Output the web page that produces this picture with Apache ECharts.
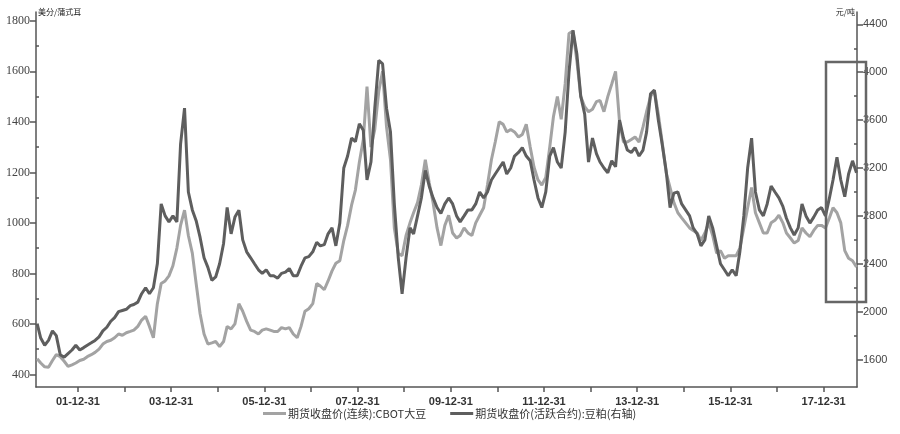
<!DOCTYPE html>
<html>
<head>
<meta charset="utf-8">
<script src="https://cdn.jsdelivr.net/npm/echarts@6/dist/echarts.min.js"></script>
<style>
html,body{margin:0;padding:0;background:#fff;}
#c{width:900px;height:434px;}
</style>
</head>
<body>
<div id="c"></div>
<script>
// first month of data, monthly points
const startYear = 2001, startMonth = 2;
// CBOT soybeans continuous close (US cents/bushel), monthly, Feb 2001 - Sep 2018
const cbotSoy = [
  462,445,430,428,455,478,470,452,432,438,445,
  455,460,470,478,487,500,520,530,535,545,560,555,
  565,570,575,590,615,630,590,545,680,760,770,790,
  830,900,990,1050,950,880,760,640,560,520,525,530,
  510,530,590,580,600,680,650,610,575,570,560,575,
  580,575,570,570,585,580,585,560,545,590,650,660,
  680,760,750,735,770,810,840,850,930,990,1070,1130,
  1240,1330,1540,1300,1370,1520,1600,1380,1250,980,880,870,
  950,1000,1040,1080,1150,1250,1160,1080,980,910,990,1030,
  960,940,950,980,960,950,1000,1030,1060,1150,1250,1320,
  1400,1390,1360,1370,1360,1340,1350,1390,1300,1220,1170,1150,
  1180,1300,1420,1500,1410,1550,1750,1760,1640,1500,1460,1440,
  1450,1480,1485,1440,1500,1550,1600,1400,1320,1320,1330,1340,
  1320,1380,1440,1500,1525,1430,1320,1200,1140,1080,1040,1020,
  1000,980,970,960,930,960,1000,950,880,890,860,870,
  870,870,900,980,1060,1140,1040,1000,960,960,1000,1010,
  1030,1000,960,940,920,930,980,960,945,970,990,990,
  980,1020,1060,1040,1000,890,860,850,825
];
// DCE soybean meal active contract close (yuan/ton), monthly, Feb 2001 - Sep 2018
const dceMeal = [
  1900,1780,1720,1760,1840,1800,1640,1620,1650,1680,1720,
  1680,1700,1720,1740,1760,1790,1840,1870,1920,1950,2000,2010,
  2020,2050,2060,2080,2150,2200,2150,2200,2400,2900,2800,2750,
  2800,2750,3400,3700,3000,2850,2760,2620,2450,2370,2262,2290,
  2400,2570,2870,2650,2790,2847,2600,2500,2450,2400,2350,2320,
  2350,2300,2300,2280,2320,2330,2360,2300,2300,2380,2450,2460,
  2500,2580,2550,2560,2650,2700,2550,2740,3200,3300,3450,3420,
  3570,3515,3100,3250,3700,4100,4070,3700,3500,2900,2450,2150,
  2450,2700,2650,2800,2950,3180,3050,2950,2870,2820,2900,2950,
  2900,2800,2750,2800,2850,2850,2900,3000,2950,3000,3100,3150,
  3200,3250,3150,3200,3300,3330,3370,3300,3260,3100,2950,2870,
  3000,3300,3370,3250,3200,3500,4000,4350,4150,3800,3650,3250,
  3450,3320,3250,3200,3160,3260,3210,3600,3450,3350,3330,3370,
  3300,3350,3500,3820,3850,3600,3400,3180,2870,2990,3000,2900,
  2850,2800,2700,2650,2550,2600,2800,2700,2550,2400,2350,2300,
  2350,2300,2500,2800,3200,3450,3000,2850,2800,2900,3050,3000,
  2950,2880,2780,2700,2640,2700,2900,2800,2740,2790,2850,2870,
  2800,2950,3100,3290,3100,2960,3150,3260,3160
];
const seriesNames = ['期货收盘价(连续):CBOT大豆', '期货收盘价(活跃合约):豆粕(右轴)'];
const leftUnit = '美分/蒲式耳';
const rightUnit = '元/吨';
const leftLabels = [400,600,800,1000,1200,1400,1600,1800];
const leftMinor = [500,700,900,1100,1300,1500,1700];
const rightLabels = [1600,2000,2400,2800,3200,3600,4000,4400];
const rightMinor = [1800,2200,2600,3000,3400,3800,4200];
const labelYears = [2001,2003,2005,2007,2009,2011,2013,2015,2017];
const tickYears = [2001,2002,2003,2004,2005,2006,2007,2008,2009,2010,2011,2012,2013,2014,2015,2016,2017];

const dates = cbotSoy.map((_, i) => {
  const m = startMonth - 1 + i;
  return Date.UTC(startYear + Math.floor(m / 12), m % 12, 15);
});
const yearEnd = y => Date.UTC(y, 11, 31, 12);

const chart = echarts.init(document.getElementById('c'), null, {renderer: 'canvas'});
const axisCol = '#555';
const plain = v => String(v);
const option = {
  animation: false,
  backgroundColor: '#fff',
  grid: {left: 36, right: 43, top: 12, bottom: 47},
  legend: {
    left: 263, top: 408, padding: 0,
    itemWidth: 23, itemHeight: 3, itemGap: 24,
    icon: 'rect',
    textStyle: {fontFamily: 'Noto Sans CJK SC', fontSize: 11, color: '#333', padding: [0,0,0,-3]},
    data: seriesNames
  },
  xAxis: {
    type: 'value',
    min: Date.UTC(2001, 1, 6),
    max: Date.UTC(2018, 8, 19),
    axisLine: {lineStyle: {color: axisCol, width: 1.5}},
    axisTick: {show: true, length: 5, lineStyle: {color: axisCol, width: 1.5}, customValues: tickYears.map(yearEnd)},
    axisLabel: {
      customValues: labelYears.map(yearEnd),
      formatter: v => String(new Date(v).getUTCFullYear()).slice(2) + '-12-31',
      fontFamily: 'Liberation Sans', fontWeight: 'bold', fontSize: 11, color: '#333', margin: 9
    },
    splitLine: {show: false}
  },
  yAxis: [
    {
      type: 'value', position: 'left', min: 350, max: 1835,
      name: leftUnit, nameLocation: 'end', nameGap: 0,
      nameTextStyle: {fontFamily: 'Noto Sans CJK SC', fontSize: 8, color: '#222', align: 'left', verticalAlign: 'middle', padding: [0,0,0,2]},
      axisLine: {show: true, lineStyle: {color: axisCol, width: 1.5}},
      axisTick: {show: true, length: 6, lineStyle: {color: axisCol, width: 1.5}, customValues: leftLabels},
      axisLabel: {customValues: leftLabels, formatter: plain, fontFamily: 'Liberation Serif', fontSize: 12, color: '#444', margin: 6},
      splitLine: {show: false}
    },
    {
      type: 'value', position: 'right', min: 1371, max: 4503,
      name: rightUnit, nameLocation: 'end', nameGap: 0,
      nameTextStyle: {fontFamily: 'Noto Sans CJK SC', fontSize: 8, color: '#222', align: 'right', verticalAlign: 'middle', padding: [0,2,0,0]},
      axisLine: {show: true, lineStyle: {color: axisCol, width: 1.5}},
      axisTick: {show: true, length: 6, lineStyle: {color: axisCol, width: 1.5}, customValues: rightLabels},
      axisLabel: {customValues: rightLabels, formatter: plain, fontFamily: 'Liberation Sans', fontSize: 11, color: '#444', margin: 6},
      splitLine: {show: false}
    },
    {
      type: 'value', position: 'left', min: 350, max: 1835,
      axisLine: {show: false},
      axisTick: {show: true, inside: true, length: 3, lineStyle: {color: axisCol, width: 1.5}, customValues: leftMinor},
      axisLabel: {show: false}, splitLine: {show: false}
    },
    {
      type: 'value', position: 'right', min: 1371, max: 4503,
      axisLine: {show: false},
      axisTick: {show: true, inside: true, length: 3, lineStyle: {color: axisCol, width: 1.5}, customValues: rightMinor},
      axisLabel: {show: false}, splitLine: {show: false}
    }
  ],
  series: [
    {
      name: seriesNames[0], type: 'line', yAxisIndex: 0,
      showSymbol: false, symbol: 'none',
      lineStyle: {color: '#a3a3a3', width: 3},
      itemStyle: {color: '#a3a3a3'},
      data: dates.map((d, i) => [d, cbotSoy[i]])
    },
    {
      name: seriesNames[1], type: 'line', yAxisIndex: 1,
      showSymbol: false, symbol: 'none',
      lineStyle: {color: '#5e5e5e', width: 3},
      itemStyle: {color: '#5e5e5e'},
      data: dates.map((d, i) => [d, dceMeal[i]])
    }
  ],
  graphic: [
    {type: 'rect', shape: {x: 826, y: 62, width: 40, height: 240}, style: {fill: 'none', stroke: '#666', lineWidth: 2.5}, z: 100}
  ]
};
chart.setOption(option);
</script>
</body>
</html>
